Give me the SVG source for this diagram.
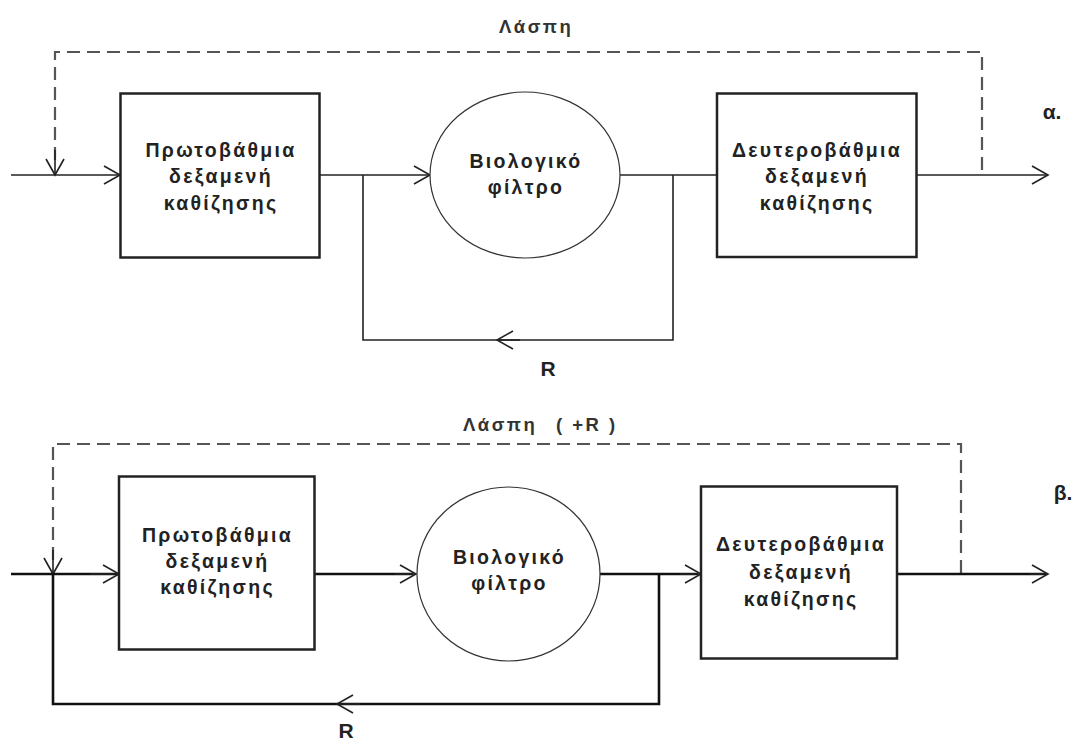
<svg xmlns="http://www.w3.org/2000/svg" width="1078" height="742" viewBox="0 0 1078 742">
<defs>
<style>
.box{fill:#fff;stroke:#222;stroke-width:2.5}
.ell{fill:#fff;stroke:#333;stroke-width:1.2}
.ln{fill:none;stroke:#222;stroke-width:1.6}
.lnb{fill:none;stroke:#111;stroke-width:2.6}
.dash{fill:none;stroke:#555;stroke-width:2.2;stroke-dasharray:13 7}
.t{font-family:"Liberation Sans",Arial,sans-serif;font-weight:bold;font-size:19.5px;fill:#222;text-anchor:middle;letter-spacing:2.3px}
.lbl{font-family:"Liberation Sans",Arial,sans-serif;font-weight:bold;font-size:18.5px;fill:#333;letter-spacing:2.5px}
.big{font-family:"Liberation Sans",Arial,sans-serif;font-weight:bold;font-size:21px;fill:#222;text-anchor:middle}
</style>
<marker id="ah" markerWidth="20" markerHeight="22" viewBox="-17 -11 20 22" refX="0" refY="0" orient="auto" markerUnits="userSpaceOnUse">
<path d="M-16,-9 L0,0 L-16,9" fill="none" stroke="#222" stroke-width="1.6"/>
</marker>
</defs>
<rect width="1078" height="742" fill="#fff"/>

<g id="connectors">
<!-- diagram a -->
<path class="dash" d="M55,160 V52 H982 V175"/>
<line class="ln" x1="55" y1="150" x2="55" y2="175" marker-end="url(#ah)"/>
<line class="ln" x1="11" y1="175" x2="120" y2="175" marker-end="url(#ah)"/>
<line class="ln" x1="320" y1="175" x2="430" y2="175" marker-end="url(#ah)"/>
<path class="ln" d="M363,175 V340 H673 V175"/>
<line class="ln" x1="520" y1="340" x2="497" y2="340" marker-end="url(#ah)"/>
<line class="ln" x1="620" y1="175" x2="717" y2="175"/>
<line class="ln" x1="917" y1="175" x2="1048" y2="175" marker-end="url(#ah)"/>
<!-- diagram b -->
<path class="dash" d="M53,560 V444 H961 V574"/>
<line class="ln" x1="53" y1="550" x2="53" y2="574" marker-end="url(#ah)"/>
<line class="lnb" x1="11" y1="574" x2="118" y2="574"/>
<line class="ln" x1="90" y1="574" x2="119" y2="574" marker-end="url(#ah)"/>
<line class="lnb" x1="315" y1="574" x2="413" y2="574"/>
<line class="ln" x1="395" y1="574" x2="416" y2="574" marker-end="url(#ah)"/>
<path class="lnb" d="M53,574 V704 H659 V574"/>
<line class="ln" x1="360" y1="704" x2="337" y2="704" marker-end="url(#ah)"/>
<line class="lnb" x1="600" y1="574" x2="698" y2="574"/>
<line class="ln" x1="680" y1="574" x2="701" y2="574" marker-end="url(#ah)"/>
<line class="lnb" x1="897" y1="574" x2="1046" y2="574"/>
<line class="ln" x1="1030" y1="574" x2="1048" y2="574" marker-end="url(#ah)"/>
</g>

<g id="a-primary">
<rect class="box" x="120.5" y="93.5" width="199" height="164"/>
<text class="t" x="221" y="157">Πρωτοβάθμια</text>
<text class="t" x="221" y="183">δεξαμενή</text>
<text class="t" x="221" y="210">καθίζησης</text>
</g>
<g id="a-filter">
<ellipse class="ell" cx="525" cy="175" rx="95" ry="83"/>
<text class="t" x="526" y="168">Βιολογικό</text>
<text class="t" x="526" y="194">φίλτρο</text>
</g>
<g id="a-secondary">
<rect class="box" x="717" y="93.5" width="199.5" height="163.5"/>
<text class="t" x="817" y="157">Δευτεροβάθμια</text>
<text class="t" x="817" y="183">δεξαμενή</text>
<text class="t" x="817" y="210">καθίζησης</text>
</g>
<g id="a-labels">
<text class="lbl" x="499" y="33">Λάσπη</text>
<text class="big" x="548" y="376">R</text>
<text class="big" x="1052" y="119">α.</text>
</g>

<g id="b-primary">
<rect class="box" x="119" y="476.5" width="195.5" height="173"/>
<text class="t" x="217.5" y="542">Πρωτοβάθμια</text>
<text class="t" x="217.5" y="568">δεξαμενή</text>
<text class="t" x="217.5" y="594">καθίζησης</text>
</g>
<g id="b-filter">
<ellipse class="ell" cx="508.5" cy="574" rx="91.5" ry="87"/>
<text class="t" x="509.5" y="564">Βιολογικό</text>
<text class="t" x="509.5" y="590">φίλτρο</text>
</g>
<g id="b-secondary">
<rect class="box" x="701" y="486.5" width="196" height="172"/>
<text class="t" x="801" y="551">Δευτεροβάθμια</text>
<text class="t" x="801" y="579">δεξαμενή</text>
<text class="t" x="801" y="606">καθίζησης</text>
</g>
<g id="b-labels">
<text class="lbl" y="431"><tspan x="463">Λάσπη</tspan><tspan x="556">( +R )</tspan></text>
<text class="big" x="346" y="738">R</text>
<text class="big" x="1063" y="500">β.</text>
</g>
</svg>
